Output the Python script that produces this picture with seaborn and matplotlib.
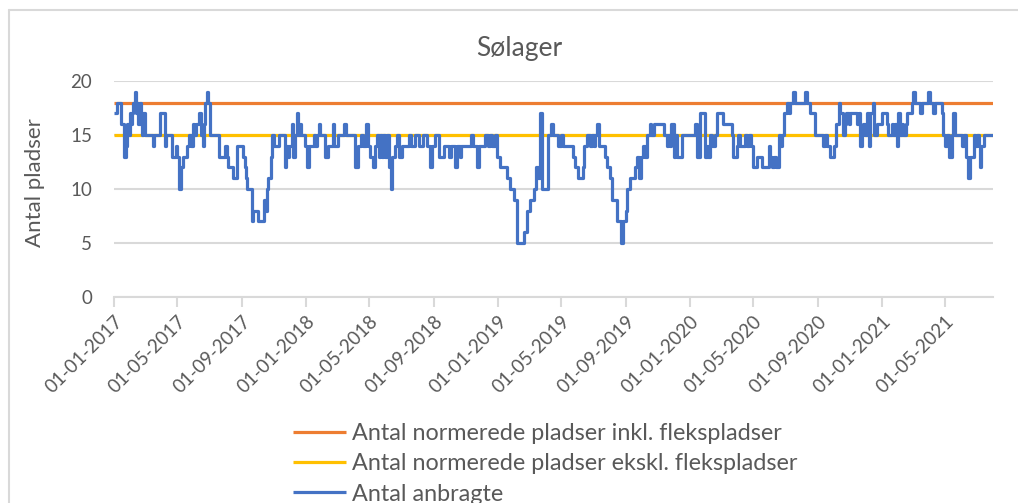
"""
Sølager - antal anbragte vs. normerede pladser
"""

import matplotlib
matplotlib.use("Agg")
import matplotlib.pyplot as plt
import matplotlib.dates as mdates
from matplotlib.lines import Line2D
import seaborn as sns
import pandas as pd

# --- data ---
start_date = "2017-01-01"
end_date = "2021-07-31"

title = "Sølager"
y_label = "Antal pladser"
label_incl = "Antal normerede pladser inkl. flekspladser"
label_excl = "Antal normerede pladser ekskl. flekspladser"
label_anbragte = "Antal anbragte"

pladser_incl = 18
pladser_excl = 15

# days since 01-01-2017 where the number of placed children changes
days_2017 = [0, 6, 12, 18, 22, 25, 27, 29, 32, 34, 36, 39, 41, 44, 46, 48, 50, 52, 55, 58,
             73, 76, 87, 96, 99, 109, 117, 120, 123, 126, 130, 139, 142, 145, 149, 152, 156, 161, 164, 168,
             170, 173, 176, 178, 182, 199, 211, 214, 217, 225, 233, 244, 248, 250, 253, 262, 264, 273, 284, 288,
             290, 293, 298, 300, 303, 314, 324, 327, 330, 333, 338, 340, 343, 347, 350, 353, 356, 363, 366, 370,
             379, 382, 385, 389]
anbragte_2017 = [17, 18, 16, 13, 14, 16, 15, 17, 16, 17, 18, 19, 17, 18, 16, 18, 16, 15, 17, 15,
                 14, 15, 17, 14, 15, 13, 14, 13, 10, 12, 13, 14, 15, 14, 16, 15, 16, 17, 15, 14,
                 16, 18, 19, 18, 15, 13, 14, 13, 12, 11, 14, 13, 12, 11, 10, 7, 8, 7, 9, 8,
                 10, 11, 13, 15, 14, 15, 12, 14, 13, 14, 16, 13, 15, 17, 15, 16, 15, 14, 12, 14,
                 15, 14, 15, 16]

days_2018 = [391, 401, 407, 416, 418, 426, 437, 440, 458, 464, 469, 473, 479, 482, 487, 493, 496, 499, 503, 506,
             509, 512, 515, 519, 523, 527, 529, 534, 538, 541, 547, 560, 564, 572, 579, 587, 594, 601, 604, 610,
             617, 628, 636, 640, 648, 652, 657, 659, 678, 682, 690, 694, 705, 711, 715, 718, 725, 728, 734, 747,
             753, 760, 766, 779, 785, 790, 798, 803, 807, 809]
anbragte_2018 = [15, 13, 14, 16, 14, 15, 16, 15, 12, 14, 15, 14, 16, 14, 13, 12, 14, 15, 13, 15,
                 13, 15, 13, 15, 12, 10, 13, 14, 15, 13, 14, 15, 14, 15, 14, 15, 14, 12, 14, 15,
                 13, 14, 13, 14, 12, 14, 13, 14, 15, 14, 12, 14, 15, 14, 15, 14, 15, 13, 12, 11,
                 10, 9, 5, 6, 8, 9, 10, 12, 11, 17]

days_2019 = [813, 826, 830, 834, 845, 849, 853, 872, 877, 883, 891, 894, 899, 905, 908, 912, 915, 919, 923, 934,
             937, 943, 946, 957, 965, 968, 974, 976, 981, 991, 995, 999, 1002, 1005, 1010, 1013, 1019, 1022, 1026, 1045,
             1052, 1054, 1057, 1060, 1064, 1067, 1070, 1080, 1105, 1108, 1114, 1123, 1127, 1130, 1133, 1137, 1143, 1146, 1159, 1175,
             1178, 1184, 1187, 1190, 1200, 1203, 1207, 1211, 1215, 1222, 1232]
anbragte_2019 = [10, 15, 16, 15, 14, 15, 14, 13, 12, 11, 12, 14, 15, 14, 15, 14, 15, 16, 14, 13,
                 12, 11, 9, 7, 5, 7, 8, 10, 11, 12, 13, 11, 13, 14, 13, 15, 16, 15, 16, 15,
                 14, 15, 14, 16, 13, 15, 13, 15, 16, 13, 17, 13, 14, 13, 15, 14, 15, 17, 16, 15,
                 13, 14, 15, 14, 15, 14, 15, 14, 12, 13, 12]

days_2020 = [1245, 1248, 1251, 1255, 1259, 1264, 1267, 1270, 1274, 1279, 1283, 1286, 1292, 1295, 1314, 1318, 1324, 1333, 1348, 1352,
             1356, 1362, 1369, 1373, 1378, 1381, 1387, 1390, 1392, 1397, 1400, 1413, 1416, 1419, 1422, 1425, 1428, 1432, 1435, 1438,
             1443, 1446, 1451, 1460, 1470, 1473, 1479, 1482, 1486, 1489, 1492, 1495, 1498, 1501, 1506, 1508, 1517, 1520, 1524, 1533,
             1536, 1549, 1552, 1558, 1562, 1574, 1577, 1581, 1584, 1589, 1593, 1596, 1600, 1612, 1617, 1621, 1625, 1629, 1635, 1638,
             1642, 1645, 1647, 1650, 1655, 1672]
anbragte_2020 = [14, 13, 12, 13, 12, 15, 14, 15, 17, 18, 17, 18, 19, 18, 19, 18, 17, 15, 14, 15,
                 14, 13, 14, 16, 18, 17, 15, 16, 17, 16, 17, 16, 17, 14, 15, 16, 15, 17, 14, 17,
                 18, 15, 16, 17, 16, 15, 16, 15, 16, 14, 17, 15, 16, 15, 16, 17, 18, 19, 18, 17,
                 18, 19, 18, 17, 18, 17, 15, 14, 15, 13, 15, 17, 15, 14, 15, 13, 11, 13, 15, 14,
                 15, 14, 12, 14, 15, 15]

# --- colours ---
ORANGE = "#ED7D31"
YELLOW = "#FFC000"
BLUE = "#4472C4"
GRID = "#D9D9D9"
TEXT = "#595959"

sns.set_theme(style="white")
plt.rcParams["font.family"] = ["Lato", "DejaVu Sans"]

start = pd.Timestamp(start_date)
days = days_2017 + days_2018 + days_2019 + days_2020
anbragte = anbragte_2017 + anbragte_2018 + anbragte_2019 + anbragte_2020
df = pd.DataFrame({
    "dato": start + pd.to_timedelta(days, unit="D"),
    "antal": anbragte,
})
span = pd.to_datetime([start_date, end_date])
df_incl = pd.DataFrame({"dato": span, "antal": [pladser_incl, pladser_incl]})
df_excl = pd.DataFrame({"dato": span, "antal": [pladser_excl, pladser_excl]})

fig = plt.figure(figsize=(10.18, 5.03), dpi=100)
ax = fig.add_axes([0.1123, 0.4095, 0.8632, 0.4294])

line_kw = dict(linewidth=2.3, solid_joinstyle="round", solid_capstyle="butt")
sns.lineplot(data=df_incl, x="dato", y="antal", color=ORANGE, label=label_incl, ax=ax, **line_kw)
sns.lineplot(data=df_excl, x="dato", y="antal", color=YELLOW, label=label_excl, ax=ax, **line_kw)
sns.lineplot(data=df, x="dato", y="antal", color=BLUE, label=label_anbragte, ax=ax,
             drawstyle="steps-post", estimator=None, **line_kw)

ax.set_xlim(span[0], span[1])
ax.set_ylim(0, 20)
ax.set_yticks([0, 5, 10, 15, 20])

ax.xaxis.set_major_locator(mdates.MonthLocator(bymonth=[1, 5, 9]))
ax.xaxis.set_major_formatter(mdates.DateFormatter("%d-%m-%Y"))
plt.setp(ax.get_xticklabels(), rotation=45, ha="right", rotation_mode="anchor")

ax.tick_params(axis="x", colors=GRID, labelcolor=TEXT, labelsize=13.5,
               length=7, width=1.5, direction="out", pad=4, bottom=True)
ax.tick_params(axis="y", length=0, labelcolor=TEXT, labelsize=13.5, pad=16)

ax.yaxis.grid(True, color=GRID, linewidth=1.5)
ax.set_axisbelow(True)
for side in ["top", "right", "left"]:
    ax.spines[side].set_visible(False)
ax.spines["bottom"].set_color(GRID)
ax.spines["bottom"].set_linewidth(1.5)

ax.set_xlabel("")
ax.set_ylabel(y_label, fontsize=16, color=TEXT)
ax.yaxis.set_label_coords(-0.079, 0.53)

fig.text(0.51, 1 - 56 / 503, title, ha="center", va="baseline", fontsize=19, color=TEXT)

handles, labels = ax.get_legend_handles_labels()
ax.get_legend().remove()
fig.legend(handles, labels, loc="upper left", bbox_to_anchor=(293 / 1018, 1 - 423 / 503),
           frameon=False, fontsize=16.8, labelcolor=TEXT, handlelength=2.26,
           handletextpad=0.26, labelspacing=0.4, borderpad=0, borderaxespad=0)

# chart area border (top and left edges only visible)
fig.add_artist(Line2D([9 / 1018, 9 / 1018], [0, 1 - 9.5 / 503], transform=fig.transFigure,
                      color=GRID, linewidth=1.5))
fig.add_artist(Line2D([9 / 1018, 1], [1 - 9.5 / 503, 1 - 9.5 / 503], transform=fig.transFigure,
                      color=GRID, linewidth=1.5))

fig.savefig("out.png", dpi=100)
